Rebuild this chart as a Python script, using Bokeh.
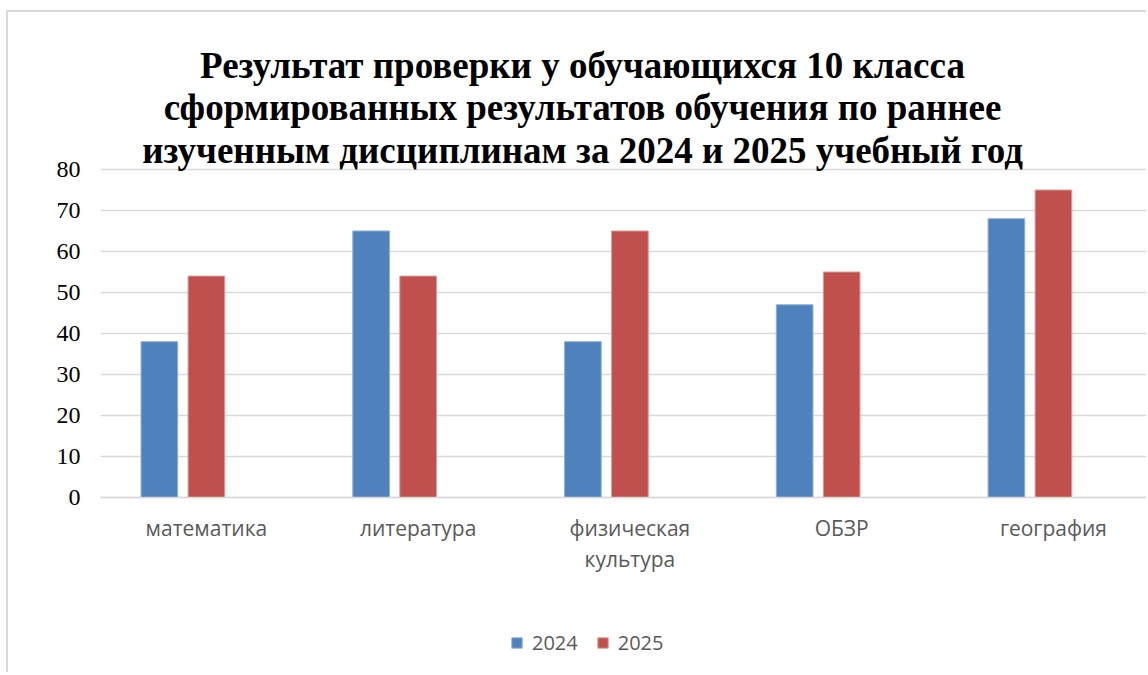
from bokeh.plotting import figure
from bokeh.models import ColumnDataSource, Range1d, FixedTicker, Legend, LegendItem, Label
from bokeh.transform import dodge
from bokeh.embed import file_html
from bokeh.resources import INLINE

categories = ["математика", "литература", "физическая\nкультура", "ОБЗР", "география"]
values_2024 = [38, 65, 38, 47, 68]
values_2025 = [54, 54, 65, 55, 75]
series_names = ["2024", "2025"]
y_ticks = [0, 10, 20, 30, 40, 50, 60, 70, 80]
title_lines = [
    "Результат проверки у обучающихся 10 класса",
    "сформированных результатов обучения по раннее",
    "изученным дисциплинам за 2024 и 2025 учебный год",
]

BLUE = "#4F81BD"
RED = "#C0504D"

xpos = [i + 0.5 for i in range(len(categories))]
src = ColumnDataSource(dict(x=xpos, y2024=values_2024, y2025=values_2025))

# one large frame: the value axis spans 0..80 in the middle, room above for the
# title and below for the category labels and legend
p = figure(width=1140, height=662, output_backend="svg", toolbar_location=None,
           x_range=Range1d(0, 4.949), y_range=Range1d(-43.17, 118.29),
           min_border_left=92, min_border_right=0, min_border_top=0, min_border_bottom=0)
p.styles = {"margin-left": "6px", "margin-top": "10px",
            "border-left": "2px solid #d9d9d9", "border-top": "2px solid #d9d9d9"}
p.outline_line_color = None
p.background_fill_color = "white"
p.border_fill_color = "white"

r1 = p.vbar(x=dodge("x", -0.222, range=p.x_range), top="y2024", width=0.173, source=src,
            fill_color=BLUE, line_color="#8FAEDA", line_width=1)
r2 = p.vbar(x=dodge("x", 0.0, range=p.x_range), top="y2025", width=0.173, source=src,
            fill_color=RED, line_color="#DC9A98", line_width=1)

# axes
p.xaxis.fixed_location = 0
p.xaxis.ticker = FixedTicker(ticks=xpos)
p.xaxis.major_label_overrides = {x: c for x, c in zip(xpos, categories)}
p.xaxis.axis_line_color = "#d9d9d9"
p.xaxis.axis_line_width = 1.5
p.xaxis.major_tick_line_color = None
p.xaxis.minor_tick_line_color = None
p.xaxis.major_label_text_font = "Open Sans"
p.xaxis.major_label_text_font_size = "21px"
p.xaxis.major_label_text_color = "#595959"
p.xaxis.major_label_text_line_height = 1.1
p.xaxis.major_label_standoff = 11

p.yaxis.ticker = FixedTicker(ticks=y_ticks)
p.yaxis.axis_line_color = None
p.yaxis.major_tick_line_color = None
p.yaxis.minor_tick_line_color = None
p.yaxis.major_label_text_font = "Liberation Serif"
p.yaxis.major_label_text_font_size = "24px"
p.yaxis.major_label_text_color = "black"
p.yaxis.major_label_standoff = 14

p.xgrid.grid_line_color = None
p.ygrid.ticker = FixedTicker(ticks=y_ticks)
p.ygrid.grid_line_color = "#d9d9d9"
p.ygrid.grid_line_width = 1.5

# title lines (screen units: from frame left / frame bottom)
for line, yb in zip(title_lines, [609, 567, 524]):
    p.add_layout(Label(x=482, y=yb, x_units="screen", y_units="screen", text=line,
                       text_align="center", text_baseline="alphabetic",
                       text_font="Liberation Serif", text_font_style="bold",
                       text_font_size="37px", text_color="black"))

legend = Legend(items=[LegendItem(label=series_names[0], renderers=[r1]),
                       LegendItem(label=series_names[1], renderers=[r2])],
                orientation="horizontal", location=(410, 18),
                glyph_width=13, glyph_height=13, label_standoff=9, spacing=18,
                padding=0, margin=0, border_line_color=None, background_fill_alpha=0,
                label_text_font="Open Sans", label_text_font_size="20px",
                label_text_color="#595959")
p.add_layout(legend, "center")

open("out.html", "w").write(file_html(p, INLINE))
